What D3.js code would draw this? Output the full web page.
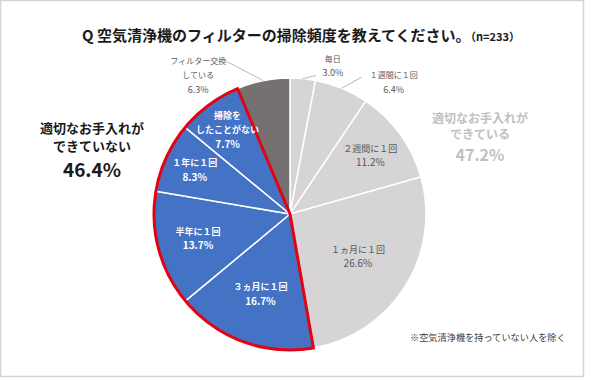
<!DOCTYPE html>
<html><head><meta charset="utf-8">
<script src="https://cdn.jsdelivr.net/npm/d3@7"></script>
<style>
html,body{margin:0;padding:0;background:#fff;}
svg text{font-family:"Noto Sans CJK JP","Noto Sans",sans-serif;}
</style></head>
<body><svg id="c" width="600" height="386"></svg>
<script>
// ---- data ----
const categories = ["毎日","１週間に１回","２週間に１回","１ヵ月に１回","３ヵ月に１回","半年に１回","１年に１回","掃除をしたことがない","フィルター交換している"];
const labelLines = [["毎日"],["１週間に１回"],["２週間に１回"],["１ヵ月に１回"],["３ヵ月に１回"],["半年に１回"],["１年に１回"],["掃除を","したことがない"],["フィルター交換","している"]];
const values = [3.0, 6.4, 11.2, 26.6, 16.7, 13.7, 8.3, 7.7, 6.3];
const groups = ["ok","ok","ok","ok","ng","ng","ng","ng","filter"];
const groupTotals = {ok: 47.2, ng: 46.4};
const title = "Q 空気清浄機のフィルターの掃除頻度を教えてください。";
const nLabel = "（n=233）";
const note = "※空気清浄機を持っていない人を除く";

// ---- layout / style ----
const W = 600, H = 386, cx = 290, cy = 214, R = 136;
const colors = {ok:"#d6d4d4", ng:"#4472c4", filter:"#767171"};
const textColors = {ok:"#595959", ng:"#ffffff", filter:"#595959"};
const insideRadius = [null, null, 0.73, 0.59, 0.63, 0.70, 0.77, 0.77, null];
// outside labels: [leader end dx, dy, text center dx, first-baseline dy] relative to arc edge point
const outside = {0:[13,-3,30,-17], 1:[20,-11,52,-10], 8:[-36,-19,-65,-17]};

const svg = d3.select("#c");
svg.append("rect").attr("x",0.5).attr("y",0.5).attr("width",583).attr("height",376)
  .attr("fill","#fff").attr("stroke","#d4d4d4").attr("stroke-width",1.5);

const pie = d3.pie().sort(null).value(d=>d)(values);
const arc = d3.arc().innerRadius(0).outerRadius(R);
const g = svg.append("g").attr("transform",`translate(${cx},${cy})`);

g.selectAll("path.slice").data(pie).join("path").attr("class","slice")
  .attr("d",arc).attr("fill",(d,i)=>colors[groups[i]])
  .attr("stroke","#fff").attr("stroke-width",1.5).attr("stroke-linejoin","round");

// red outline around the "ng" group
const ngIdx = groups.map((gr,i)=>gr==="ng"?i:-1).filter(i=>i>=0);
const ngArc = {startAngle: pie[ngIdx[0]].startAngle, endAngle: pie[ngIdx[ngIdx.length-1]].endAngle};
g.append("path").attr("d", d3.arc().innerRadius(0).outerRadius(R)(ngArc))
  .attr("fill","none").attr("stroke","#e60012").attr("stroke-width",3).attr("stroke-linejoin","round");

const fs = 9, lh = 14.5;
pie.forEach((d,i)=>{
  const lines = labelLines[i].concat([values[i].toFixed(1)+"%"]);
  const col = textColors[groups[i]];
  if (insideRadius[i] !== null) {
    const a = (d.startAngle+d.endAngle)/2, rr = R*insideRadius[i];
    const x = rr*Math.sin(a), y = -rr*Math.cos(a);
    const y0 = y - (lines.length-1)*lh/2 + fs*0.35;
    lines.forEach((t,k)=>{
      g.append("text").attr("x",x).attr("y",y0+k*lh).attr("text-anchor","middle")
        .attr("font-size", k===lines.length-1? 10: fs).attr("font-weight", groups[i]==="ng"?"bold":"normal")
        .attr("fill",col).text(t);
    });
  } else {
    const a = (d.startAngle+d.endAngle)/2;
    const x = R*Math.sin(a), y = -R*Math.cos(a);
    const o = outside[i];
    g.append("line").attr("x1",x).attr("y1",y).attr("x2",x+o[0]).attr("y2",y+o[1])
      .attr("stroke","#a6a6a6").attr("stroke-width",0.8);
    lines.forEach((t,k)=>{
      g.append("text").attr("x",x+o[2]).attr("y",y+o[3]+k*lh).attr("text-anchor","middle")
        .attr("font-size", k===lines.length-1? 9: 8).attr("fill","#595959").text(t);
    });
  }
});

// title
const tt = svg.append("text").attr("x",82).attr("y",41).attr("font-weight","bold").attr("fill","#1a1a1a");
tt.append("tspan").attr("font-size",15).text(title);
tt.append("tspan").attr("font-size",11).text(nLabel);

// group annotations
const ng = svg.append("g").attr("text-anchor","middle").attr("font-weight","bold").attr("fill","#1a1a1a");
ng.append("text").attr("x",92).attr("y",133).attr("font-size",13).text("適切なお手入れが");
ng.append("text").attr("x",92).attr("y",151).attr("font-size",13).text("できていない");
ng.append("text").attr("x",92).attr("y",177).attr("font-size",19).text(groupTotals.ng.toFixed(1)+"%");

const ok = svg.append("g").attr("text-anchor","middle").attr("font-weight","bold").attr("fill","#bfbfbf");
ok.append("text").attr("x",480).attr("y",123).attr("font-size",12).text("適切なお手入れが");
ok.append("text").attr("x",480).attr("y",139).attr("font-size",12).text("できている");
ok.append("text").attr("x",480).attr("y",161).attr("font-size",16).text(groupTotals.ok.toFixed(1)+"%");

svg.append("text").attr("x",410).attr("y",341).attr("font-size",9.2).attr("fill","#404040").text(note);
</script></body></html>
